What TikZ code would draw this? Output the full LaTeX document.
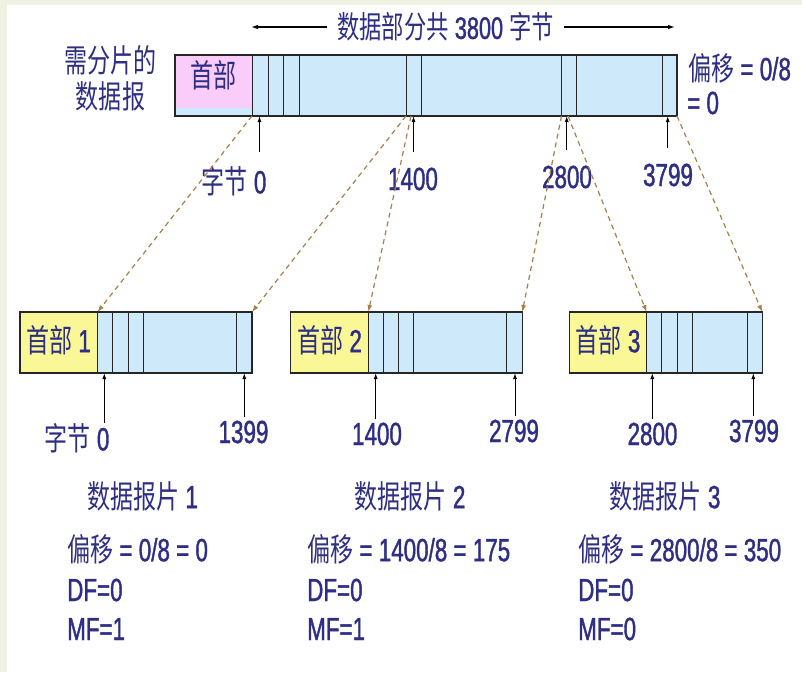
\documentclass[tikz,border=0pt]{standalone}
\usepackage{fontspec}
\setmainfont{Liberation Sans}[FakeStretch=0.70,FakeBold=1.2]
\newfontfamily\cjk{Noto Sans CJK SC}[FakeStretch=0.72]
\usetikzlibrary{arrows.meta}
\definecolor{bgstrip}{RGB}{239,241,226}
\definecolor{navy}{RGB}{46,46,132}
\definecolor{lblue}{RGB}{205,233,250}
\definecolor{pinkc}{RGB}{250,204,250}
\definecolor{yellowc}{RGB}{250,248,150}
\definecolor{dashbrown}{RGB}{168,128,72}
\begin{document}
\begin{tikzpicture}[x=1pt,y=-1pt,
  txt/.style={text=navy, font=\fontsize{32pt}{34pt}\selectfont, inner sep=0pt},
  boxline/.style={draw=black!85, line width=1.3pt},
  divline/.style={draw=black!85, line width=1pt},
  ptr/.style={draw=black, line width=1pt, -{Latex[length=6pt,width=4pt]}},
  frag/.style={draw=dashbrown, line width=1.2pt, dash pattern=on 5pt off 4pt, -{Latex[length=7pt,width=5pt]}},
  span/.style={draw=black, line width=1.2pt, -{Latex[length=7pt,width=4.5pt]}}]
\useasboundingbox (0,0) rectangle (802,672);
\fill[white] (0,0) rectangle (802,672);
\fill[bgstrip] (0,0) rectangle (802,5);
\fill[bgstrip] (0,0) rectangle (7,672);

% ---------- title ----------
\node[txt, font=\fontsize{31pt}{33pt}\selectfont] (title) at (445.5,27) {{\cjk 数据部分共} 3800 {\cjk 字节}};
\coordinate (tl) at (251,27);
\coordinate (tr) at (675,27);
\draw[span] ([xshift=-10pt]title.west) -- (tl);
\draw[span] ([xshift=10pt]title.east) -- (tr);

% ---------- original datagram ----------
\node[txt, align=center] (lbl1) at (110.5,60) {\cjk 需分片的};
\node[txt, align=center] (lbl2) at (110.5,96) {\cjk 数据报};
\fill[lblue] (175,55) rectangle (677,116);
\fill[pinkc] (175,55) rectangle (252,108);
\foreach \x in {252,268,283.5,299,406,421,561.5,576.5,662}
  \draw[divline] (\x,55) -- (\x,116);
\draw[boxline] (175,55) rectangle (677,116);
\node[txt] (toph) at (213.5,75) {\cjk 首部};
\node[txt, anchor=west] (off0a) at (688,68) {{\cjk 偏移} = 0/8};
\node[txt, anchor=west] (off0b) at (687,103) {= 0};

% byte pointers on original
\node[txt] (b0) at (234,181) {{\cjk 字节} 0};
\node[txt] (b1400) at (413,179) {1400};
\node[txt] (b2800) at (567,177) {2800};
\node[txt] (b3799) at (668,175) {3799};
\coordinate (p0) at (259.5,116);
\coordinate (p1400) at (413.5,116);
\coordinate (p2800) at (566.7,116);
\coordinate (p3799) at (667.7,116);
\draw[ptr] (259.5,152) -- (p0);
\draw[ptr] (413.5,152) -- (p1400);
\draw[ptr] (566.7,150) -- (p2800);
\draw[ptr] (667.7,148) -- (p3799);

% ---------- fragment 1 ----------
\fill[lblue] (20,312) rectangle (252,373);
\fill[yellowc] (20,312) rectangle (97.5,373);
\foreach \x in {97.5,112.7,128.3,143.3,236.7}
  \draw[divline] (\x,312) -- (\x,373);
\draw[boxline] (20,312) rectangle (252,373);
\node[txt] (h1) at (58.5,340) {{\cjk 首部} 1};

% ---------- fragment 2 ----------
\fill[lblue] (290.7,312) rectangle (522.3,373);
\fill[yellowc] (290.7,312) rectangle (368.3,373);
\foreach \x in {368.3,383.3,398.5,413.5,506.7}
  \draw[divline] (\x,312) -- (\x,373);
\draw[boxline] (290.7,312) rectangle (522.3,373);
\node[txt] (h2) at (329.5,340) {{\cjk 首部} 2};

% ---------- fragment 3 ----------
\fill[lblue] (569.3,312) rectangle (762.3,373);
\fill[yellowc] (569.3,312) rectangle (646.7,373);
\foreach \x in {646.7,661.7,677.3,692.7,747.7}
  \draw[divline] (\x,312) -- (\x,373);
\draw[boxline] (569.3,312) rectangle (762.3,373);
\node[txt] (h3) at (608,340) {{\cjk 首部} 3};

% ---------- dashed mapping ----------
\coordinate (s1) at (252,116);   \coordinate (e1) at (97.5,312);
\coordinate (s2) at (406,116);   \coordinate (e2) at (252,312);
\coordinate (s3) at (411,116);   \coordinate (e3) at (368.3,312);
\coordinate (s4) at (561.5,116); \coordinate (e4) at (522.3,312);
\coordinate (s5) at (568,116);   \coordinate (e5) at (646.7,312);
\coordinate (s6) at (677,116);   \coordinate (e6) at (762.3,312);
\draw[frag] (s1) -- (e1);
\draw[frag] (s2) -- (e2);
\draw[frag] (s3) -- (e3);
\draw[frag] (s4) -- (e4);
\draw[frag] (s5) -- (e5);
\draw[frag] (s6) -- (e6);

% ---------- fragment byte pointers ----------
\node[txt] (f0) at (77,438) {{\cjk 字节} 0};
\node[txt] (f1399) at (243.5,432) {1399};
\node[txt] (f1400) at (377,434) {1400};
\node[txt] (f2799) at (514,431) {2799};
\node[txt] (f2800) at (652.5,434) {2800};
\node[txt] (f3799) at (754,431) {3799};
\coordinate (q1) at (104.3,373);
\coordinate (q2) at (244.3,373);
\coordinate (q3) at (375.7,373);
\coordinate (q4) at (515,373);
\coordinate (q5) at (652.3,373);
\coordinate (q6) at (753.3,373);
\draw[ptr] (104.3,423) -- (q1);
\draw[ptr] (244.3,417) -- (q2);
\draw[ptr] (375.7,419) -- (q3);
\draw[ptr] (515,416) -- (q4);
\draw[ptr] (652.3,419) -- (q5);
\draw[ptr] (753.3,416) -- (q6);

% ---------- fragment descriptions ----------
\node[txt] (t1) at (142.5,496) {{\cjk 数据报片} 1};
\node[txt] (t2) at (410,496) {{\cjk 数据报片} 2};
\node[txt] (t3) at (665,496) {{\cjk 数据报片} 3};

\node[txt, anchor=west] (o1) at (67,549) {{\cjk 偏移} = 0/8 = 0};
\node[txt, anchor=west] (d1) at (67,590) {DF=0};
\node[txt, anchor=west] (m1) at (67,629) {MF=1};

\node[txt, anchor=west] (o2) at (307,549) {{\cjk 偏移} = 1400/8 = 175};
\node[txt, anchor=west] (d2) at (307,590) {DF=0};
\node[txt, anchor=west] (m2) at (307,629) {MF=1};

\node[txt, anchor=west] (o3) at (578,549) {{\cjk 偏移} = 2800/8 = 350};
\node[txt, anchor=west] (d3) at (578,590) {DF=0};
\node[txt, anchor=west] (m3) at (578,629) {MF=0};
\end{tikzpicture}
\end{document}
